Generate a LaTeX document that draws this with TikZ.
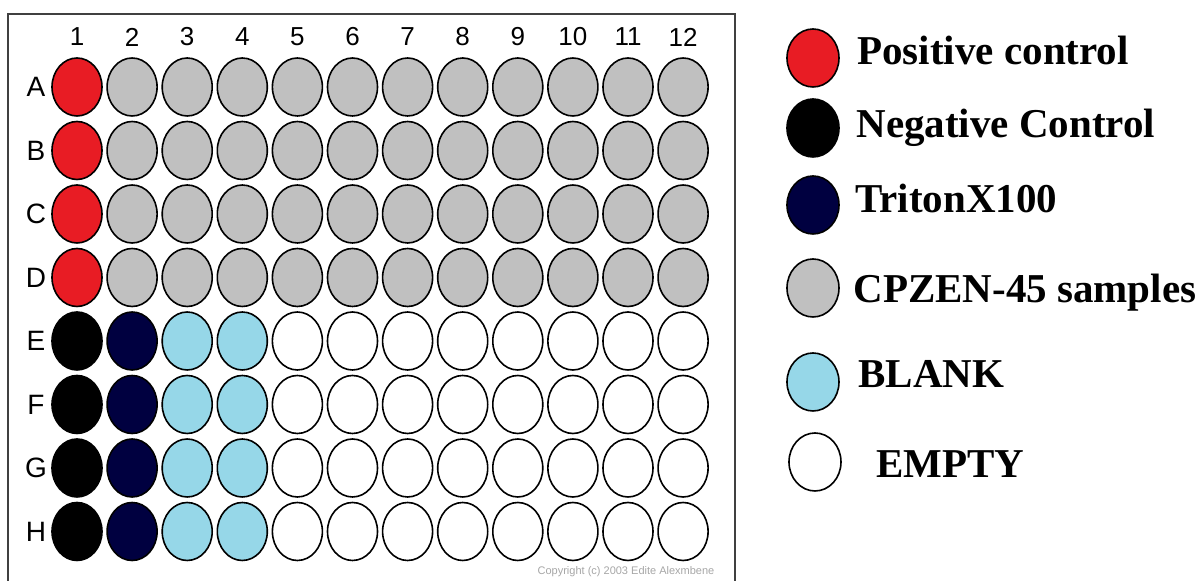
\documentclass[tikz,border=0pt]{standalone}
\usepackage{fontspec}
\setmainfont{Liberation Serif}
\setsansfont{Liberation Sans}
\usetikzlibrary{shapes.geometric}
\usetikzlibrary{positioning}
\definecolor{c1}{RGB}{232, 28, 36}
\definecolor{c2}{RGB}{192, 192, 192}
\definecolor{c3}{RGB}{0, 0, 64}
\definecolor{c4}{RGB}{150, 215, 232}
\tikzstyle{well}=[ellipse, draw=black, line width=0.8pt, minimum width=25pt, minimum height=29pt, inner sep=0pt]
\tikzset{
  well_pos/.style={well, fill=c1},
  well_neg/.style={well, fill=black},
  well_triton/.style={well, fill=c3},
  well_sample/.style={well, fill=c2},
  well_blank/.style={well, fill=c4},
  well_empty/.style={well, fill=white},
  % label/.style={draw=none},
  plate_label/.style={font=\sffamily\fontsize{13}{13}\selectfont, inner sep=0pt},
  row_label/.style={font=\sffamily\fontsize{14}{14}\selectfont, inner sep=0pt},
  key_text/.style={font=\bfseries\fontsize{20.5}{24}\selectfont, anchor=base west, inner sep=0pt},
  frame/.style={draw=black!75, line width=1pt},
}

\begin{document}
\begin{tikzpicture}[x=0.5pt, y=-0.5pt]
    \useasboundingbox (0,0) rectangle (1196,581);

    % plate frame
    \coordinate (f1) at (8,581);
    \coordinate (f2) at (8,14);
    \coordinate (f3) at (735,14);
    \coordinate (f4) at (735,581);
    \draw[frame] (f1) -- (f2) -- (f3) -- (f4);

    % column and row labels
    \foreach \c in {1,...,12}
        \node[plate_label] (col\c) at ({77+(\c-1)*55.1},37) {\c};
    \foreach \r/\name in {1/A,2/B,3/C,4/D,5/E,6/F,7/G,8/H}
        \node[row_label] (row\name) at (36,{87+(\r-1)*63.5}) {\name};

    % rows A-D
    \foreach \r/\name in {1/A,2/B,3/C,4/D}{
        \node[well_pos] (w\name1) at (77,{87+(\r-1)*63.5}){};
        \foreach \c in {2,...,12}
            \node[well_sample] (w\name\c) at ({77+(\c-1)*55.1},{87+(\r-1)*63.5}){};
    }

    % rows E-H
    \foreach \r/\name in {5/E,6/F,7/G,8/H}{
        \node[well_neg] (w\name1) at (77,{87+(\r-1)*63.5}){};
        \node[well_triton] (w\name2) at (132.1,{87+(\r-1)*63.5}){};
        \foreach \c in {3,4}
            \node[well_blank] (w\name\c) at ({77+(\c-1)*55.1},{87+(\r-1)*63.5}){};
        \foreach \c in {5,...,12}
            \node[well_empty] (w\name\c) at ({77+(\c-1)*55.1},{87+(\r-1)*63.5}){};
    }

    \node[font=\sffamily\fontsize{5.5}{5.5}\selectfont, text=black!35, inner sep=0pt] (copy) at (626,572) {Copyright (c) 2003 Edite Alexmbene};

    % legend
    \node[well_pos, minimum width=26pt] (k1) at (813,58){};
    \node[well_neg, minimum width=26pt] (k2) at (813,128){};
    \node[well_triton, minimum width=26pt] (k3) at (813,205){};
    \node[well_sample, minimum width=26pt] (k4) at (813,288){};
    \node[well_blank, minimum width=26pt] (k5) at (813,382){};
    \node[well_empty, minimum width=26pt] (k6) at (815,462){};

    \node[key_text] (t1) at (857,65) {Positive control};
    \node[key_text] (t2) at (856,138) {Negative Control};
    \node[key_text] (t3) at (855,213) {TritonX100};
    \node[key_text] (t4) at (853,303) {CPZEN-45 samples};
    \node[key_text] (t5) at (858,388) {BLANK};
    \node[key_text] (t6) at (876,478) {EMPTY};

\end{tikzpicture}
\end{document}
